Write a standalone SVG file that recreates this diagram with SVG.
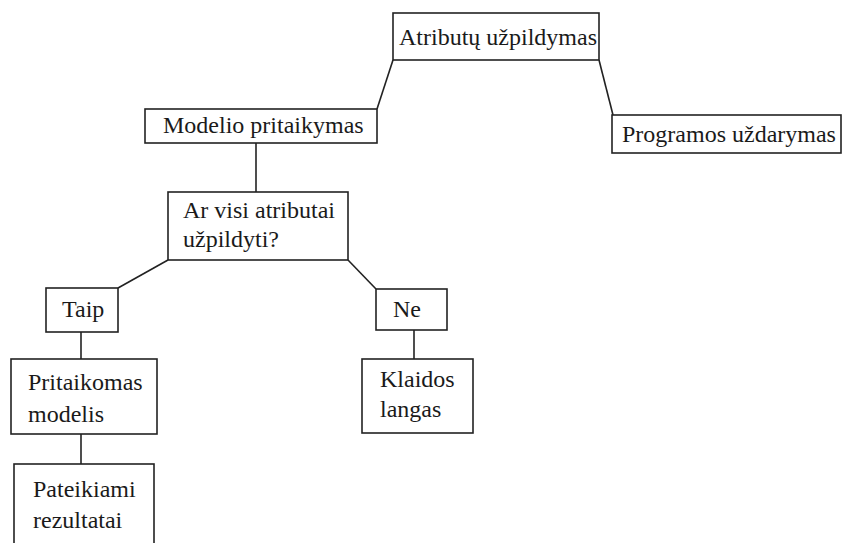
<svg xmlns="http://www.w3.org/2000/svg" width="843" height="543" viewBox="0 0 843 543">
  <style>
    .box { fill: #ffffff; stroke: #222222; stroke-width: 1.6; }
    .link { stroke: #222222; stroke-width: 1.6; fill: none; }
    .lbl { font-family: 'Liberation Serif', 'Times New Roman', serif; font-size: 24px; fill: #1a1a1a; }
  </style>
  <rect x="0" y="0" width="843" height="543" fill="#ffffff"/>

  <!-- tree edges -->
  <g id="connectors">
    <line class="link" x1="393" y1="60" x2="377" y2="109"/>
    <line class="link" x1="599" y1="60" x2="613" y2="115"/>
    <line class="link" x1="256" y1="143" x2="256" y2="192"/>
    <line class="link" x1="168" y1="260" x2="118" y2="288"/>
    <line class="link" x1="348" y1="260" x2="376" y2="289"/>
    <line class="link" x1="81" y1="332" x2="81" y2="359"/>
    <line class="link" x1="81" y1="434" x2="81" y2="464"/>
    <line class="link" x1="414" y1="330" x2="414" y2="359"/>
  </g>

  <g id="atributu-uzpildymas">
    <rect class="box" x="393" y="13" width="206" height="47"/>
    <text class="lbl" x="399" y="45">Atributų užpildymas</text>
  </g>

  <g id="programos-uzdarymas">
    <rect class="box" x="612" y="115" width="229" height="38"/>
    <text class="lbl" x="622" y="142">Programos uždarymas</text>
  </g>

  <g id="modelio-pritaikymas">
    <rect class="box" x="145" y="109" width="232" height="34"/>
    <text class="lbl" x="163" y="133">Modelio pritaikymas</text>
  </g>

  <g id="ar-visi-uzpildyti">
    <rect class="box" x="168" y="192" width="180" height="68"/>
    <text class="lbl" x="183" y="218">Ar visi atributai</text>
    <text class="lbl" x="183" y="247">užpildyti?</text>
  </g>

  <g id="taip">
    <rect class="box" x="46" y="288" width="72" height="44"/>
    <text class="lbl" x="62" y="317">Taip</text>
  </g>

  <g id="ne">
    <rect class="box" x="376" y="289" width="71" height="41"/>
    <text class="lbl" x="393" y="317">Ne</text>
  </g>

  <g id="pritaikomas-modelis">
    <rect class="box" x="11" y="359" width="146" height="75"/>
    <text class="lbl" x="28" y="390">Pritaikomas</text>
    <text class="lbl" x="28" y="422">modelis</text>
  </g>

  <g id="klaidos-langas">
    <rect class="box" x="362" y="359" width="111" height="74"/>
    <text class="lbl" x="380" y="387">Klaidos</text>
    <text class="lbl" x="380" y="417">langas</text>
  </g>

  <g id="pateikiami-rezultatai">
    <rect class="box" x="14" y="464" width="140" height="90"/>
    <text class="lbl" x="33" y="497">Pateikiami</text>
    <text class="lbl" x="33" y="528">rezultatai</text>
  </g>
</svg>
